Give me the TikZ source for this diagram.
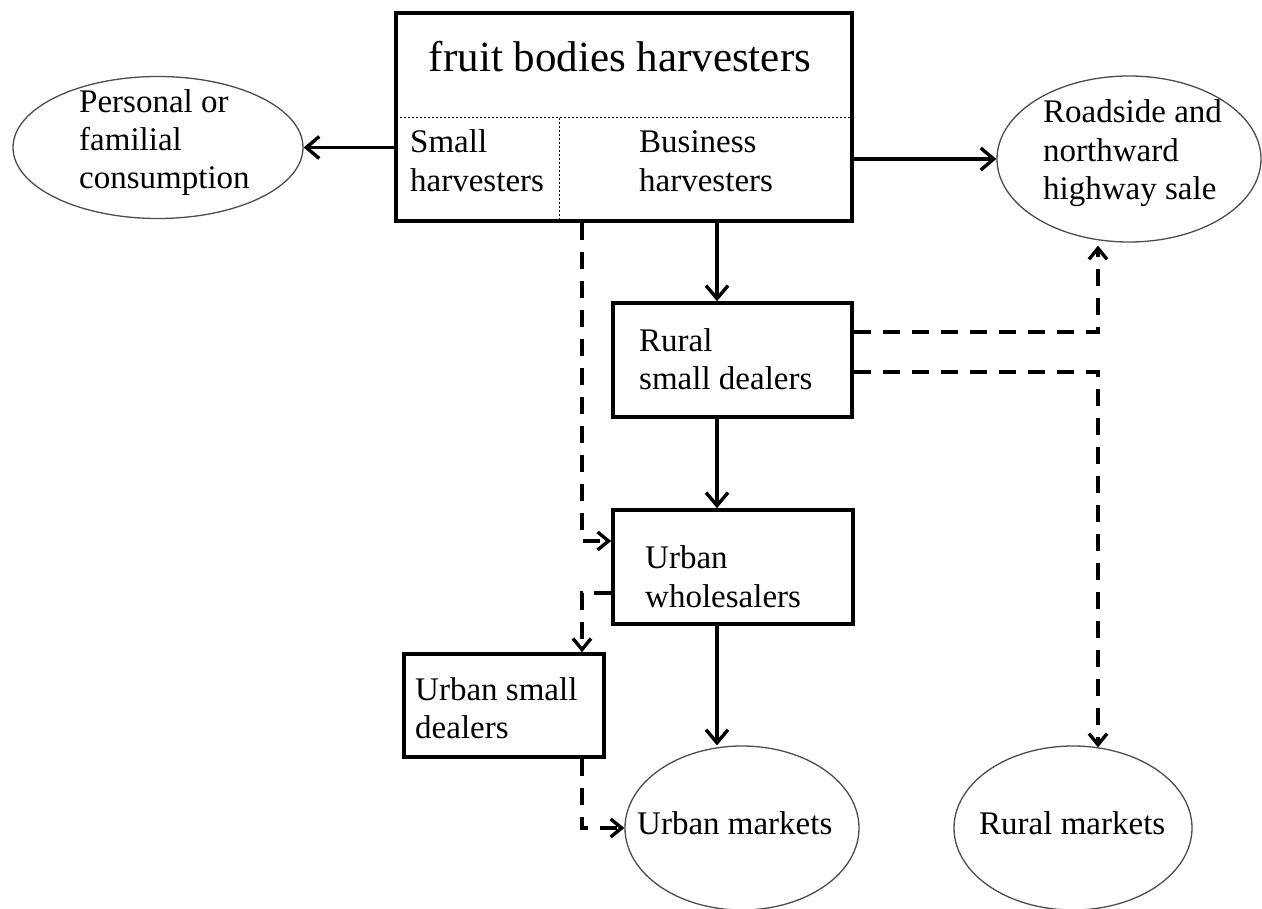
\documentclass[tikz,border=0pt]{standalone}
\usepackage{fontspec}
\setmainfont{Liberation Serif}
\usetikzlibrary{shapes.geometric,arrows.meta,calc}
\begin{document}
\begin{tikzpicture}[x=1pt,y=-1pt,
  boxnode/.style={draw,line width=3.6pt,rectangle,inner sep=0pt},
  ellnode/.style={draw=black!70,line width=1.3pt,ellipse,inner sep=0pt},
  lbl/.style={anchor=base west,inner sep=0pt,font=\fontsize{33}{38.5}\selectfont},
  solidarrow/.style={line width=3.4pt,-{Straight Barb[length=13pt,width=22pt]}},
  dasharrow/.style={line width=3.4pt,dash pattern=on 17pt off 12pt,-{Straight Barb[length=11pt,width=18pt]}},
  divider/.style={line width=1pt,dash pattern=on 2pt off 2pt}]
\useasboundingbox (0,0) rectangle (1262,909);
% columns
\coordinate (colM) at (717,0);
\coordinate (colL) at (582,0);
\coordinate (colR) at (1098,0);
% boxes
\node[boxnode,minimum width=456pt,minimum height=208pt] (top) at (624,117) {};
\node[boxnode,minimum width=239pt,minimum height=114pt] (rd) at (732.5,360) {};
\node[boxnode,minimum width=240pt,minimum height=114pt] (uw) at (733,567) {};
\node[boxnode,minimum width=200pt,minimum height=103pt] (usd) at (504,705.5) {};
% ellipses
\node[ellnode,minimum width=290pt,minimum height=142pt] (pc) at (158,147.5) {};
\node[ellnode,minimum width=264pt,minimum height=166pt] (rs) at (1129,159) {};
\node[ellnode,minimum width=234pt,minimum height=164pt] (um) at (742,828) {};
\node[ellnode,minimum width=238pt,minimum height=164pt] (rm) at (1073,828) {};
% dividers in top box
\coordinate (dl) at (396,118);
\coordinate (dr) at (852,118);
\coordinate (dv) at (559,118);
\draw[divider] (dl) -- (dr);
\draw[divider] (dv) -- (top.south -| dv);
% texts
\node[anchor=base,inner sep=0pt,font=\fontsize{43}{50}\selectfont] (title) at (620,72) {fruit bodies harvesters};
\node[lbl] (t1a) at (410,153) {Small};
\node[lbl] (t1b) at (410,192) {harvesters};
\node[lbl] (t2a) at (639,153) {Business};
\node[lbl] (t2b) at (639,192) {harvesters};
\node[lbl] (t3a) at (79,113) {Personal or};
\node[lbl] (t3b) at (79,151) {familial};
\node[lbl] (t3c) at (79,189) {consumption};
\node[lbl] (t4a) at (1043,123) {Roadside and};
\node[lbl] (t4b) at (1043,162) {northward};
\node[lbl] (t4c) at (1043,200) {highway sale};
\node[lbl] (t5a) at (639,352) {Rural};
\node[lbl] (t5b) at (639,390) {small dealers};
\node[lbl] (t6a) at (645,568) {Urban};
\node[lbl] (t6b) at (645,607) {wholesalers};
\node[lbl] (t7a) at (415,700) {Urban small};
\node[lbl] (t7b) at (415,738) {dealers};
\node[lbl] (t8) at (637,834) {Urban markets};
\node[lbl] (t9) at (979,834) {Rural markets};
% solid connectors
\draw[solidarrow] (top.west |- pc.east) -- (pc.east);
\draw[solidarrow] (top.east |- rs.west) -- (rs.west);
\draw[solidarrow] (top.south -| colM) -- (rd.north -| colM);
\draw[solidarrow] (rd.south -| colM) -- (uw.north -| colM);
\draw[solidarrow] (uw.south -| colM) -- (um.north -| colM);
% dashed connectors
\draw[dasharrow] (top.south -| colL) |- ([yshift=26pt]uw.west);
\draw[dasharrow] ([yshift=-26pt]uw.west) -| (usd.north -| colL);
\draw[dasharrow] (usd.south -| colL) |- (um.west);
\draw[dasharrow] ([yshift=28pt]rd.east) -| ([yshift=-3pt]rs.south -| colR);
\draw[dasharrow] ([yshift=-12pt]rd.east) -| ([yshift=-2pt]rm.north -| colR);
\end{tikzpicture}
\end{document}
